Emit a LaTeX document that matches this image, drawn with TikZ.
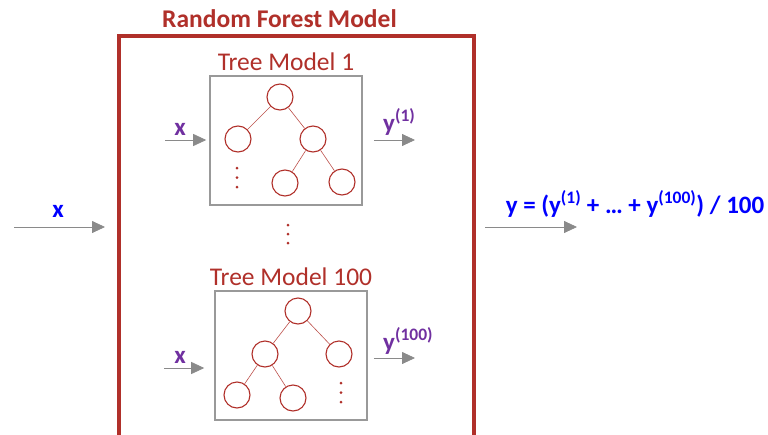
\documentclass[tikz,border=0pt]{standalone}
\usepackage{fontspec}
\setmainfont{Carlito}
\usepackage{xcolor}
\usetikzlibrary{arrows.meta,positioning}
\definecolor{rfred}{HTML}{B0302A}
\definecolor{rfpurple}{HTML}{7030A0}
\definecolor{rfblue}{HTML}{0000FF}
\definecolor{rfgray}{HTML}{8A8A8A}

\begin{document}
\begin{tikzpicture}[x=1pt,y=-1pt,font=\fontsize{25.5}{27}\selectfont,
  every node/.style={inner sep=0pt},
  leaf/.style={circle,draw=rfred,line width=1.1pt,minimum size=26pt},
  branch/.style={draw=rfred!85,line width=0.6pt},
  treebox/.style={draw=black!40,line width=1.6pt,minimum width=152pt,minimum height=129pt},
  feed/.style={draw=rfgray,line width=0.8pt,-{Triangle[length=13pt,width=12pt,fill=rfgray]}},
  lbl/.style={font=\fontsize{25}{27}\selectfont\bfseries}]
  \useasboundingbox (0,0) rectangle (768,434);

  % outer model frame
  \node[draw=rfred,line width=4pt,minimum width=355pt,minimum height=440pt] (forest) at (296.5,256) {};
  \node[lbl,text=rfred,anchor=base,font=\fontsize{25.5}{27}\selectfont\bfseries] (title) at (279.5,27) {Random Forest Model};

  % tree 1
  \node[treebox] (box1) at (286,140.5) {};
  \node[above=4pt of box1,text=rfred] (name1) {Tree Model 1};
  \node[leaf] (r1) at (280,97) {};
  \node[leaf] (a1) at (238,139) {};
  \node[leaf] (b1) at (313,139) {};
  \node[leaf] (c1) at (285,183) {};
  \node[leaf] (d1) at (342,182) {};
  \foreach \u/\v in {r1/a1,r1/b1,b1/c1,b1/d1}
    \draw[branch] (\u) -- (\v);
  \foreach \k in {0,1,2}
    \fill[rfred] (237,168+9.5*\k) circle (1.5pt);

  % dots between the trees
  \foreach \k in {0,1,2}
    \fill[rfred] (288,225+9*\k) circle (1.5pt);

  % tree 100
  \node[treebox] (box2) at (291,355.5) {};
  \node[above=4pt of box2,text=rfred] (name2) {Tree Model 100};
  \node[leaf] (r2) at (298,311) {};
  \node[leaf] (a2) at (265,354) {};
  \node[leaf] (b2) at (339,354) {};
  \node[leaf] (c2) at (237,395) {};
  \node[leaf] (d2) at (293,398) {};
  \foreach \u/\v in {r2/a2,r2/b2,a2/c2,a2/d2}
    \draw[branch] (\u) -- (\v);
  \foreach \k in {0,1,2}
    \fill[rfred] (341,383+9.5*\k) circle (1.5pt);

  % inputs and outputs of the trees
  \coordinate (in1) at (165,140);
  \coordinate (out1) at (415,140);
  \coordinate (in2) at (164,368);
  \coordinate (out2) at (415,358);
  \draw[feed,shorten >=3pt] (in1) -- (in1 -| box1.west);
  \draw[feed,shorten <=11pt] (out1 -| box1.east) -- (out1);
  \draw[feed,shorten >=10pt] (in2) -- (in2 -| box2.west);
  \draw[feed,shorten <=6pt] (out2 -| box2.east) -- (out2);
  \node[lbl,text=rfpurple,anchor=base] (x1) at (180,135) {x};
  \node[lbl,text=rfpurple,anchor=base west] (y1) at (383,131) {y\textsuperscript{(1)}};
  \node[lbl,text=rfpurple,anchor=base] (x2) at (180,363) {x};
  \node[lbl,text=rfpurple,anchor=base west] (y2) at (383,350) {y\textsuperscript{(100)}};

  % whole model
  \coordinate (xin) at (14,227);
  \coordinate (yout) at (577,227);
  \draw[feed,shorten >=12pt] (xin) -- (xin -| forest.west);
  \draw[feed,shorten <=9pt] (yout -| forest.east) -- (yout);
  \node[lbl,text=rfblue,anchor=base] (x0) at (58,217) {x};
  \node[lbl,text=rfblue,anchor=base] (y0) at (635,213) {y = (y\textsuperscript{(1)} + … + y\textsuperscript{(100)}) / 100};
\end{tikzpicture}
\end{document}
